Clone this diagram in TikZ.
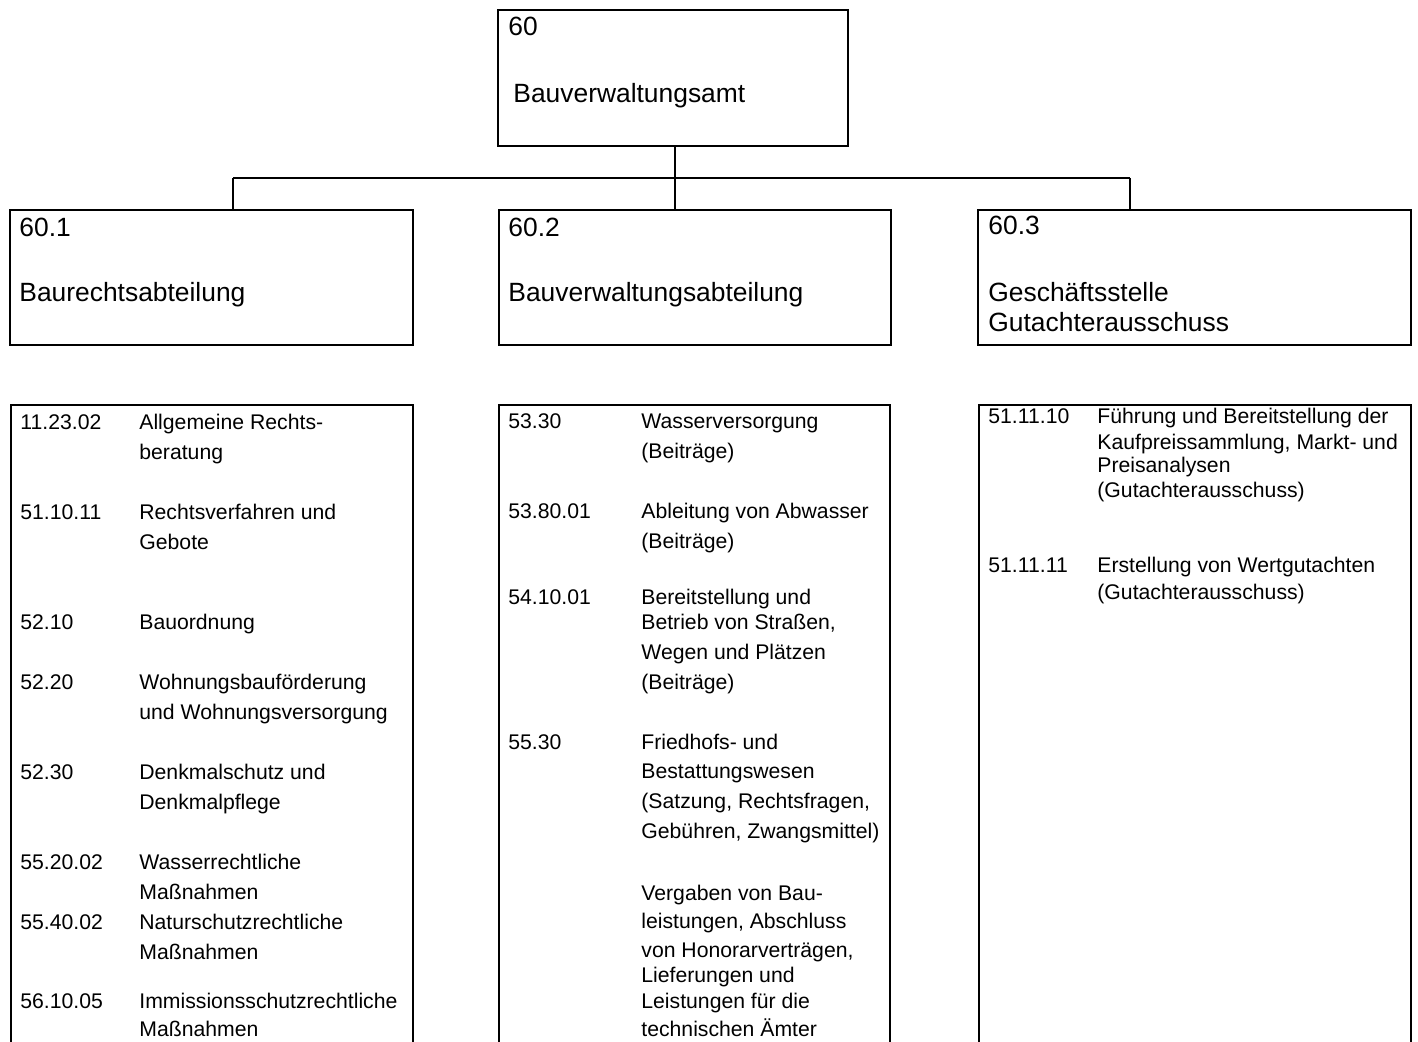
\documentclass[tikz,border=0pt]{standalone}
\usepackage{fontspec}
\setmainfont{Liberation Sans}
\usepackage{tikz}
\usetikzlibrary{positioning}

\begin{document}
\begin{tikzpicture}[
    x=0.5pt, y=-0.5pt,
    box/.style={draw, line width=1pt, rectangle, inner sep=0pt, anchor=north west},
    head/.style={anchor=base west, inner sep=0pt, font=\fontsize{13.2}{15}\selectfont},
    item/.style={anchor=base west, inner sep=0pt, font=\fontsize{10.6}{12}\selectfont},
    link/.style={draw, line width=0.8pt},
]
    \useasboundingbox (0,0) rectangle (1418,1042);
    \clip (0,0) rectangle (1418,1042);

    % Amt (top)
    \node[box, minimum width=175pt, minimum height=68pt] (amt) at (497,9) {};
    \node[head] (amtnr) at (508,36) {60};
    \node[head] (amtname) at (513,103) {Bauverwaltungsamt};

    % Abteilungen
    \node[box, minimum width=201.5pt, minimum height=67.5pt] (abt1) at (9,209) {};
    \node[box, minimum width=196pt, minimum height=67.5pt] (abt2) at (498,209) {};
    \node[box, minimum width=216.5pt, minimum height=67.5pt] (abt3) at (977,209) {};

    \node[head] (abt1nr) at (19,237) {60.1};
    \node[head] (abt1name) at (19,302) {Baurechtsabteilung};
    \node[head] (abt2nr) at (508,237) {60.2};
    \node[head] (abt2name) at (508,302) {Bauverwaltungsabteilung};
    \node[head] (abt3nr) at (988,235) {60.3};
    \node[head] (abt3name) at (988,302) {Geschäftsstelle};
    \node[head] (abt3name2) at (988,332) {Gutachterausschuss};

    % Verbindungen
    \coordinate (bus) at (675,178);
    \coordinate (bus1) at (233,178);
    \coordinate (bus3) at (1130,178);
    \draw[link] (amt.south -| bus) -- (bus) -- (bus |- abt2.north);
    \draw[link] (bus1) -- (bus3);
    \draw[link] (bus1) -- (bus1 |- abt1.north);
    \draw[link] (bus3) -- (bus3 |- abt3.north);

    % Aufgabenlisten (unten offen)
    \node[box, minimum width=201pt, minimum height=340pt] (list1) at (10,404) {};
    \node[box, minimum width=195.5pt, minimum height=340pt] (list2) at (498,404) {};
    \node[box, minimum width=216pt, minimum height=340pt] (list3) at (978,404) {};

    % Liste 60.1
    \foreach \y/\c [count=\i] in {430/11.23.02, 520/51.10.11, 629/52.10, 689/52.20,
                                  779/52.30, 869/55.20.02, 929/55.40.02, 1008/56.10.05}
        \node[item] (c1-\i) at (20,\y) {\c};
    \foreach \y/\t [count=\i] in {430/{Allgemeine Rechts-}, 460/beratung,
                                  520/{Rechtsverfahren und}, 550/Gebote,
                                  629/Bauordnung,
                                  689/Wohnungsbauförderung, 719/{und Wohnungsversorgung},
                                  779/{Denkmalschutz und}, 809/Denkmalpflege,
                                  869/Wasserrechtliche, 899/Maßnahmen,
                                  929/Naturschutzrechtliche, 959/Maßnahmen,
                                  1008/Immissionsschutzrechtliche, 1036/Maßnahmen}
        \node[item] (t1-\i) at (139,\y) {\t};

    % Liste 60.2
    \foreach \y/\c [count=\i] in {429/53.30, 519/53.80.01, 604/54.10.01, 749/55.30}
        \node[item] (c2-\i) at (508,\y) {\c};
    \foreach \y/\t [count=\i] in {429/Wasserversorgung, 459/{(Beiträge)},
                                  519/{Ableitung von Abwasser}, 549/{(Beiträge)},
                                  604/{Bereitstellung und}, 629/{Betrieb von Straßen,},
                                  659/{Wegen und Plätzen}, 689/{(Beiträge)},
                                  749/{Friedhofs- und}, 778/Bestattungswesen,
                                  808/{(Satzung, Rechtsfragen,}, 838/{Gebühren, Zwangsmittel)},
                                  900/{Vergaben von Bau-}, 928/{leistungen, Abschluss},
                                  957/{von Honorarverträgen,}, 982/{Lieferungen und},
                                  1008/{Leistungen für die}, 1036/{technischen Ämter}}
        \node[item] (t2-\i) at (641,\y) {\t};

    % Liste 60.3
    \node[item] (c3-1) at (988,424) {51.11.10};
    \node[item] (c3-2) at (988,573) {51.11.11};
    \foreach \y/\t [count=\i] in {424/{Führung und Bereitstellung der},
                                  450/{Kaufpreissammlung, Markt- und},
                                  473/Preisanalysen, 498/{(Gutachterausschuss)},
                                  573/{Erstellung von Wertgutachten},
                                  599/{(Gutachterausschuss)}}
        \node[item] (t3-\i) at (1097,\y) {\t};
\end{tikzpicture}
\end{document}
